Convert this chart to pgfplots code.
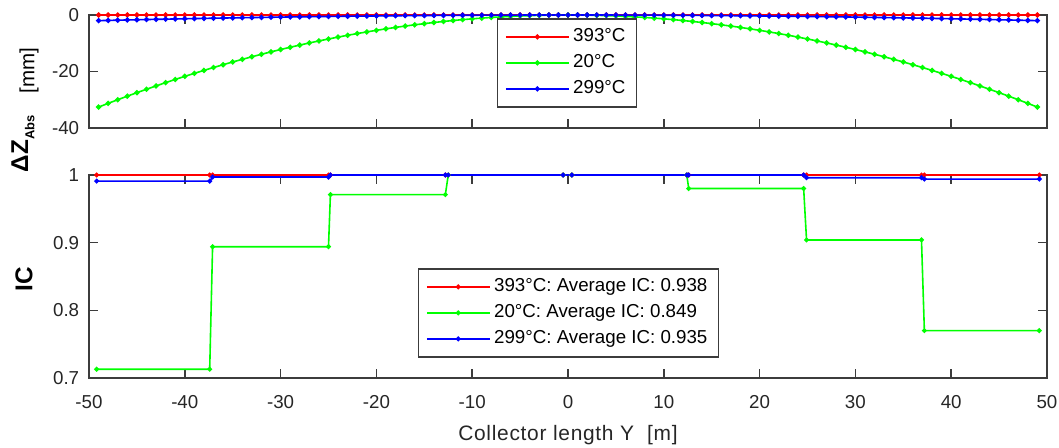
\documentclass[border=0pt]{standalone}
\usepackage{fontspec}
\setmainfont{Liberation Sans}
\newfontfamily\labelfont[LetterSpace=3.4]{Liberation Sans}
\usepackage{pgfplots}
\usepackage{pgfplotstable}
\pgfplotsset{compat=1.18}

\definecolor{axgray}{RGB}{60,60,60}
\definecolor{tred}{RGB}{255,0,0}
\definecolor{tgreen}{RGB}{0,255,0}
\definecolor{tblue}{RGB}{0,0,255}

% absorber deflection along the collector [mm]
\pgfplotstableread{
x r g b
-49 0 -32.60 -2.00
-48 0 -31.28 -1.92
-47 0 -29.99 -1.84
-46 0 -28.73 -1.76
-45 0 -27.50 -1.69
-44 0 -26.29 -1.61
-43 0 -25.11 -1.54
-42 0 -23.95 -1.47
-41 0 -22.82 -1.40
-40 0 -21.72 -1.33
-39 0 -20.65 -1.27
-38 0 -19.61 -1.20
-37 0 -18.59 -1.14
-36 0 -17.60 -1.08
-35 0 -16.63 -1.02
-34 0 -15.70 -0.96
-33 0 -14.79 -0.91
-32 0 -13.90 -0.85
-31 0 -13.05 -0.80
-30 0 -12.22 -0.75
-29 0 -11.42 -0.70
-28 0 -10.65 -0.65
-27 0 -9.90 -0.61
-26 0 -9.18 -0.56
-25 0 -8.49 -0.52
-24 0 -7.82 -0.48
-23 0 -7.18 -0.44
-22 0 -6.57 -0.40
-21 0 -5.99 -0.37
-20 0 -5.43 -0.33
-19 0 -4.90 -0.30
-18 0 -4.40 -0.27
-17 0 -3.92 -0.24
-16 0 -3.48 -0.21
-15 0 -3.06 -0.19
-14 0 -2.66 -0.16
-13 0 -2.29 -0.14
-12 0 -1.96 -0.12
-11 0 -1.64 -0.10
-10 0 -1.36 -0.08
-9 0 -1.10 -0.07
-8 0 -0.87 -0.05
-7 0 -0.67 -0.04
-6 0 -0.49 -0.03
-5 0 -0.34 -0.02
-4 0 -0.22 -0.01
-3 0 -0.12 -0.01
-2 0 -0.05 0.00
-1 0 -0.01 0.00
0 0 0.00 0.00
1 0 -0.01 0.00
2 0 -0.05 0.00
3 0 -0.12 -0.01
4 0 -0.22 -0.01
5 0 -0.34 -0.02
6 0 -0.49 -0.03
7 0 -0.67 -0.04
8 0 -0.87 -0.05
9 0 -1.10 -0.07
10 0 -1.36 -0.08
11 0 -1.64 -0.10
12 0 -1.96 -0.12
13 0 -2.29 -0.14
14 0 -2.66 -0.16
15 0 -3.06 -0.19
16 0 -3.48 -0.21
17 0 -3.92 -0.24
18 0 -4.40 -0.27
19 0 -4.90 -0.30
20 0 -5.43 -0.33
21 0 -5.99 -0.37
22 0 -6.57 -0.40
23 0 -7.18 -0.44
24 0 -7.82 -0.48
25 0 -8.49 -0.52
26 0 -9.18 -0.56
27 0 -9.90 -0.61
28 0 -10.65 -0.65
29 0 -11.42 -0.70
30 0 -12.22 -0.75
31 0 -13.05 -0.80
32 0 -13.90 -0.85
33 0 -14.79 -0.91
34 0 -15.70 -0.96
35 0 -16.63 -1.02
36 0 -17.60 -1.08
37 0 -18.59 -1.14
38 0 -19.61 -1.20
39 0 -20.65 -1.27
40 0 -21.72 -1.33
41 0 -22.82 -1.40
42 0 -23.95 -1.47
43 0 -25.11 -1.54
44 0 -26.29 -1.61
45 0 -27.50 -1.69
46 0 -28.73 -1.76
47 0 -29.99 -1.84
48 0 -31.28 -1.92
49 0 -32.60 -2.00
}\deflection

% intercept counts per collector module
\pgfplotstableread{
x r g b
-49.2 1.000 0.713 0.991
-37.4 1.000 0.713 0.991
-37.1 1.000 0.894 0.997
-25.0 1.000 0.894 0.997
-24.8 1.000 0.971 1.000
-12.8 1.000 0.971 1.000
-12.5 1.000 1.000 1.000
-0.5 1.000 1.000 1.000
0.4 1.000 1.000 1.000
12.4 1.000 1.000 1.000
12.6 1.000 0.980 1.000
24.6 1.000 0.980 1.000
24.9 1.000 0.904 0.996
36.9 1.000 0.904 0.996
37.2 1.000 0.770 0.994
49.2 1.000 0.770 0.994
}\intercept

\pgfplotsset{
  panel/.style={
    scale only axis, width=479bp,
    xmin=-50, xmax=50, xtick={-50,-40,...,50},
    axis line style={axgray, line width=0.8bp},
    every tick/.style={axgray, line width=0.8bp},
    major tick length=4.5bp,
    /pgf/number format/assume math mode=true,
    tick label style={font=\fontsize{9.4}{11}\selectfont, text=black!85},
    yticklabel style={xshift=-1.4bp},
    xticklabel style={yshift=-5.4bp},
    legend style={draw=axgray, line width=0.8bp, fill=white,
      font=\fontsize{9.4}{11}\selectfont,
      inner xsep=3.75bp, inner ysep=2.5bp,
      nodes={inner xsep=1.75bp, inner ysep=2bp, text height=7bp, text depth=2bp},
      cells={anchor=west}},
    legend image code/.code={%
      \draw[mark repeat=2, mark phase=2, #1]
        plot coordinates {(0bp,0bp) (15.75bp,0bp) (31.5bp,0bp)};},
    ylabel style={font=\fontsize{12.2}{14}\selectfont, text=black},
  },
  ser/.style={line width=0.8bp, mark=*, mark size=0.9bp, mark options={solid}},
}

\begin{document}
\begin{tikzpicture}
% deflection panel
\begin{axis}[panel,
  at={(0bp,125bp)}, anchor=south west, height=56.5bp,
  ymin=-40, ymax=0, ytick={-40,-20,0},
  xticklabels={}, clip=false,
  legend style={at={(0.499,0.973)}, anchor=north},
  ylabel={{\bfseries ΔZ\raisebox{-0.25em}{\fontsize{6.5}{7}\selectfont Abs}}\hspace{11bp}\raisebox{-0.25em}{\fontsize{10.3}{12}\selectfont[mm]}},
  ylabel style={at={(axis description cs:-0.0668,0.16)}, anchor=center},
]
\addplot[ser, color=tred]   table[x=x, y=r] {\deflection};
\addplot[ser, color=tgreen] table[x=x, y=g] {\deflection};
\addplot[ser, color=tblue]  table[x=x, y=b] {\deflection};
\legend{393°C, 20°C, 299°C}
\end{axis}

% intercept panel
\begin{axis}[panel,
  at={(0bp,0bp)}, anchor=south west, height=101.5bp,
  ymin=0.7, ymax=1, ytick={0.7,0.8,0.9,1},
  clip=false,
  legend style={at={(0.5005,0.1)}, anchor=south},
  ylabel={\bfseries IC},
  ylabel style={at={(axis description cs:-0.0678,0.488)}, anchor=center},
  xlabel={\labelfont Collector length Y\ \ [m]},
  xlabel style={at={(axis description cs:0.5,0)}, anchor=base, yshift=-31bp,
    font=\fontsize{10.5}{12}\selectfont, text=black!85},
]
\addplot[ser, color=tred, mark size=0.8bp]   table[x=x, y=r] {\intercept};
\addplot[ser, color=tgreen, mark size=0.8bp] table[x=x, y=g] {\intercept};
\addplot[ser, color=tblue, mark size=0.8bp]  table[x=x, y=b] {\intercept};
\legend{393°C: Average IC: 0.938, 20°C: Average IC: 0.849, 299°C: Average IC: 0.935}
\end{axis}

\pgfresetboundingbox
\path[use as bounding box] (-44.5bp,-35bp) rectangle (485bp,189bp);
\end{tikzpicture}
\end{document}
